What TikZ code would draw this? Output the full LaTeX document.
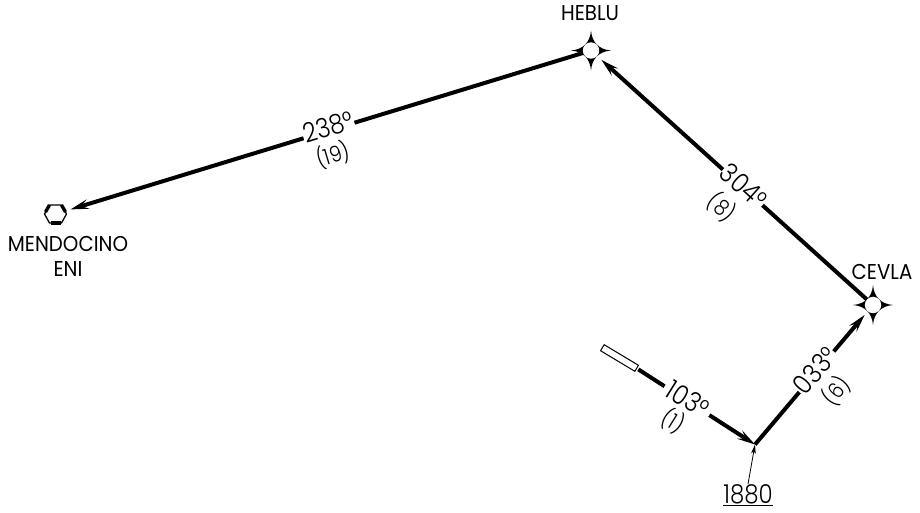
\documentclass[tikz,border=0pt]{standalone}
\usepackage{fontspec}
\setmainfont{Poppins Light}
\newfontfamily\narrowfont[FakeStretch=0.88]{Poppins Light}
\newfontfamily\namefont[FakeStretch=0.92]{Poppins}
\usetikzlibrary{arrows.meta}
\tikzset{
  route/.style={line width=4pt,-{Stealth[length=18pt,width=9.5pt,inset=7pt]}},
  wpt/.style={circle,minimum size=16pt,inner sep=0pt,outer sep=0pt},
  ptname/.style={inner sep=0pt,font=\namefont\fontsize{21.5}{25}\selectfont,align=center},
  hdg/.style={inner sep=0pt,fill=white,minimum width=53pt,minimum height=8pt,font=\narrowfont\fontsize{27}{28}\selectfont},
  dist/.style={inner sep=0pt,font=\narrowfont\fontsize{22}{24}\selectfont},
  vorstar/.pic={
    \fill[black] (0,-20) .. controls (1,-8) and (8,-1) .. (20,0)
      .. controls (8,1) and (1,8) .. (0,20)
      .. controls (-1,8) and (-8,1) .. (-20,0)
      .. controls (-8,-1) and (-1,-8) .. (0,-20) -- cycle;
    \fill[white] (0,0) circle (8.2);
  },
  vorhex/.pic={
    \draw[line width=1.3pt,line join=round] (-11,0) -- (-6,-9) -- (6,-9) -- (11,0) -- (6,9) -- (-6,9) -- cycle;
    \draw[line width=3.4pt] (-10,-2) -- (-6,-9);
    \draw[line width=3.4pt] (10,-2) -- (6,-9);
    \draw[line width=3.8pt] (-5,9) -- (5,9);
  }
}
\begin{document}
\begin{tikzpicture}[x=1pt,y=-1pt]
\useasboundingbox (0,0) rectangle (920,512);
\node[wpt] (heblu) at (591,50.5) {};
\node[wpt] (cevla) at (873,305) {};
\node[circle,minimum size=31pt,inner sep=0pt] (mendo) at (55.5,214) {};
\coordinate (fix) at (755,444.5);
\node[draw,line width=1pt,fill=white,rotate=-31,minimum width=40pt,minimum height=7pt,inner sep=0pt,outer sep=0pt] (rwy) at (619.5,358) {};

\draw[route] (heblu) -- (mendo);
\draw[route,shorten >=6pt] (cevla) -- (heblu);
\draw[route,shorten >=5pt] (fix) -- (cevla);
\draw[route,shorten <=2pt] (rwy.east) -- (fix);

\node[hdg,rotate=16.8] (h238) at (328,127) {238°};
\node[hdg,rotate=-42] (h304) at (744,186) {304°};
\node[hdg,rotate=50] (h033) at (815,370.5) {033°};
\node[hdg,rotate=-32] (h103) at (688,399) {103°};
\node[dist,rotate=16.8] (d19) at (333,155) {(19)};
\node[dist,rotate=-42] (d8) at (722,207) {(8)};
\node[dist,rotate=50] (d6) at (836,391) {(6)};
\node[dist,rotate=-32] (d1) at (673,421.5) {(1)};

\pic at (heblu) {vorstar};
\pic at (cevla) {vorstar};
\pic at (mendo) {vorhex};

\node[ptname] (nheblu) at (590,13) {HEBLU};
\node[ptname] (ncevla) at (882,272) {CEVLA};
\node[ptname] (nmendo) at (68,256) {MENDOCINO\\ENI};
\node[inner sep=0pt,font=\narrowfont\fontsize{26}{28}\selectfont] (alt) at (748,495) {\underline{1880}};
\draw[line width=.8pt,-{Stealth[length=9pt,width=4.5pt,inset=2pt]}] (alt.north) -- (fix);
\end{tikzpicture}
\end{document}
